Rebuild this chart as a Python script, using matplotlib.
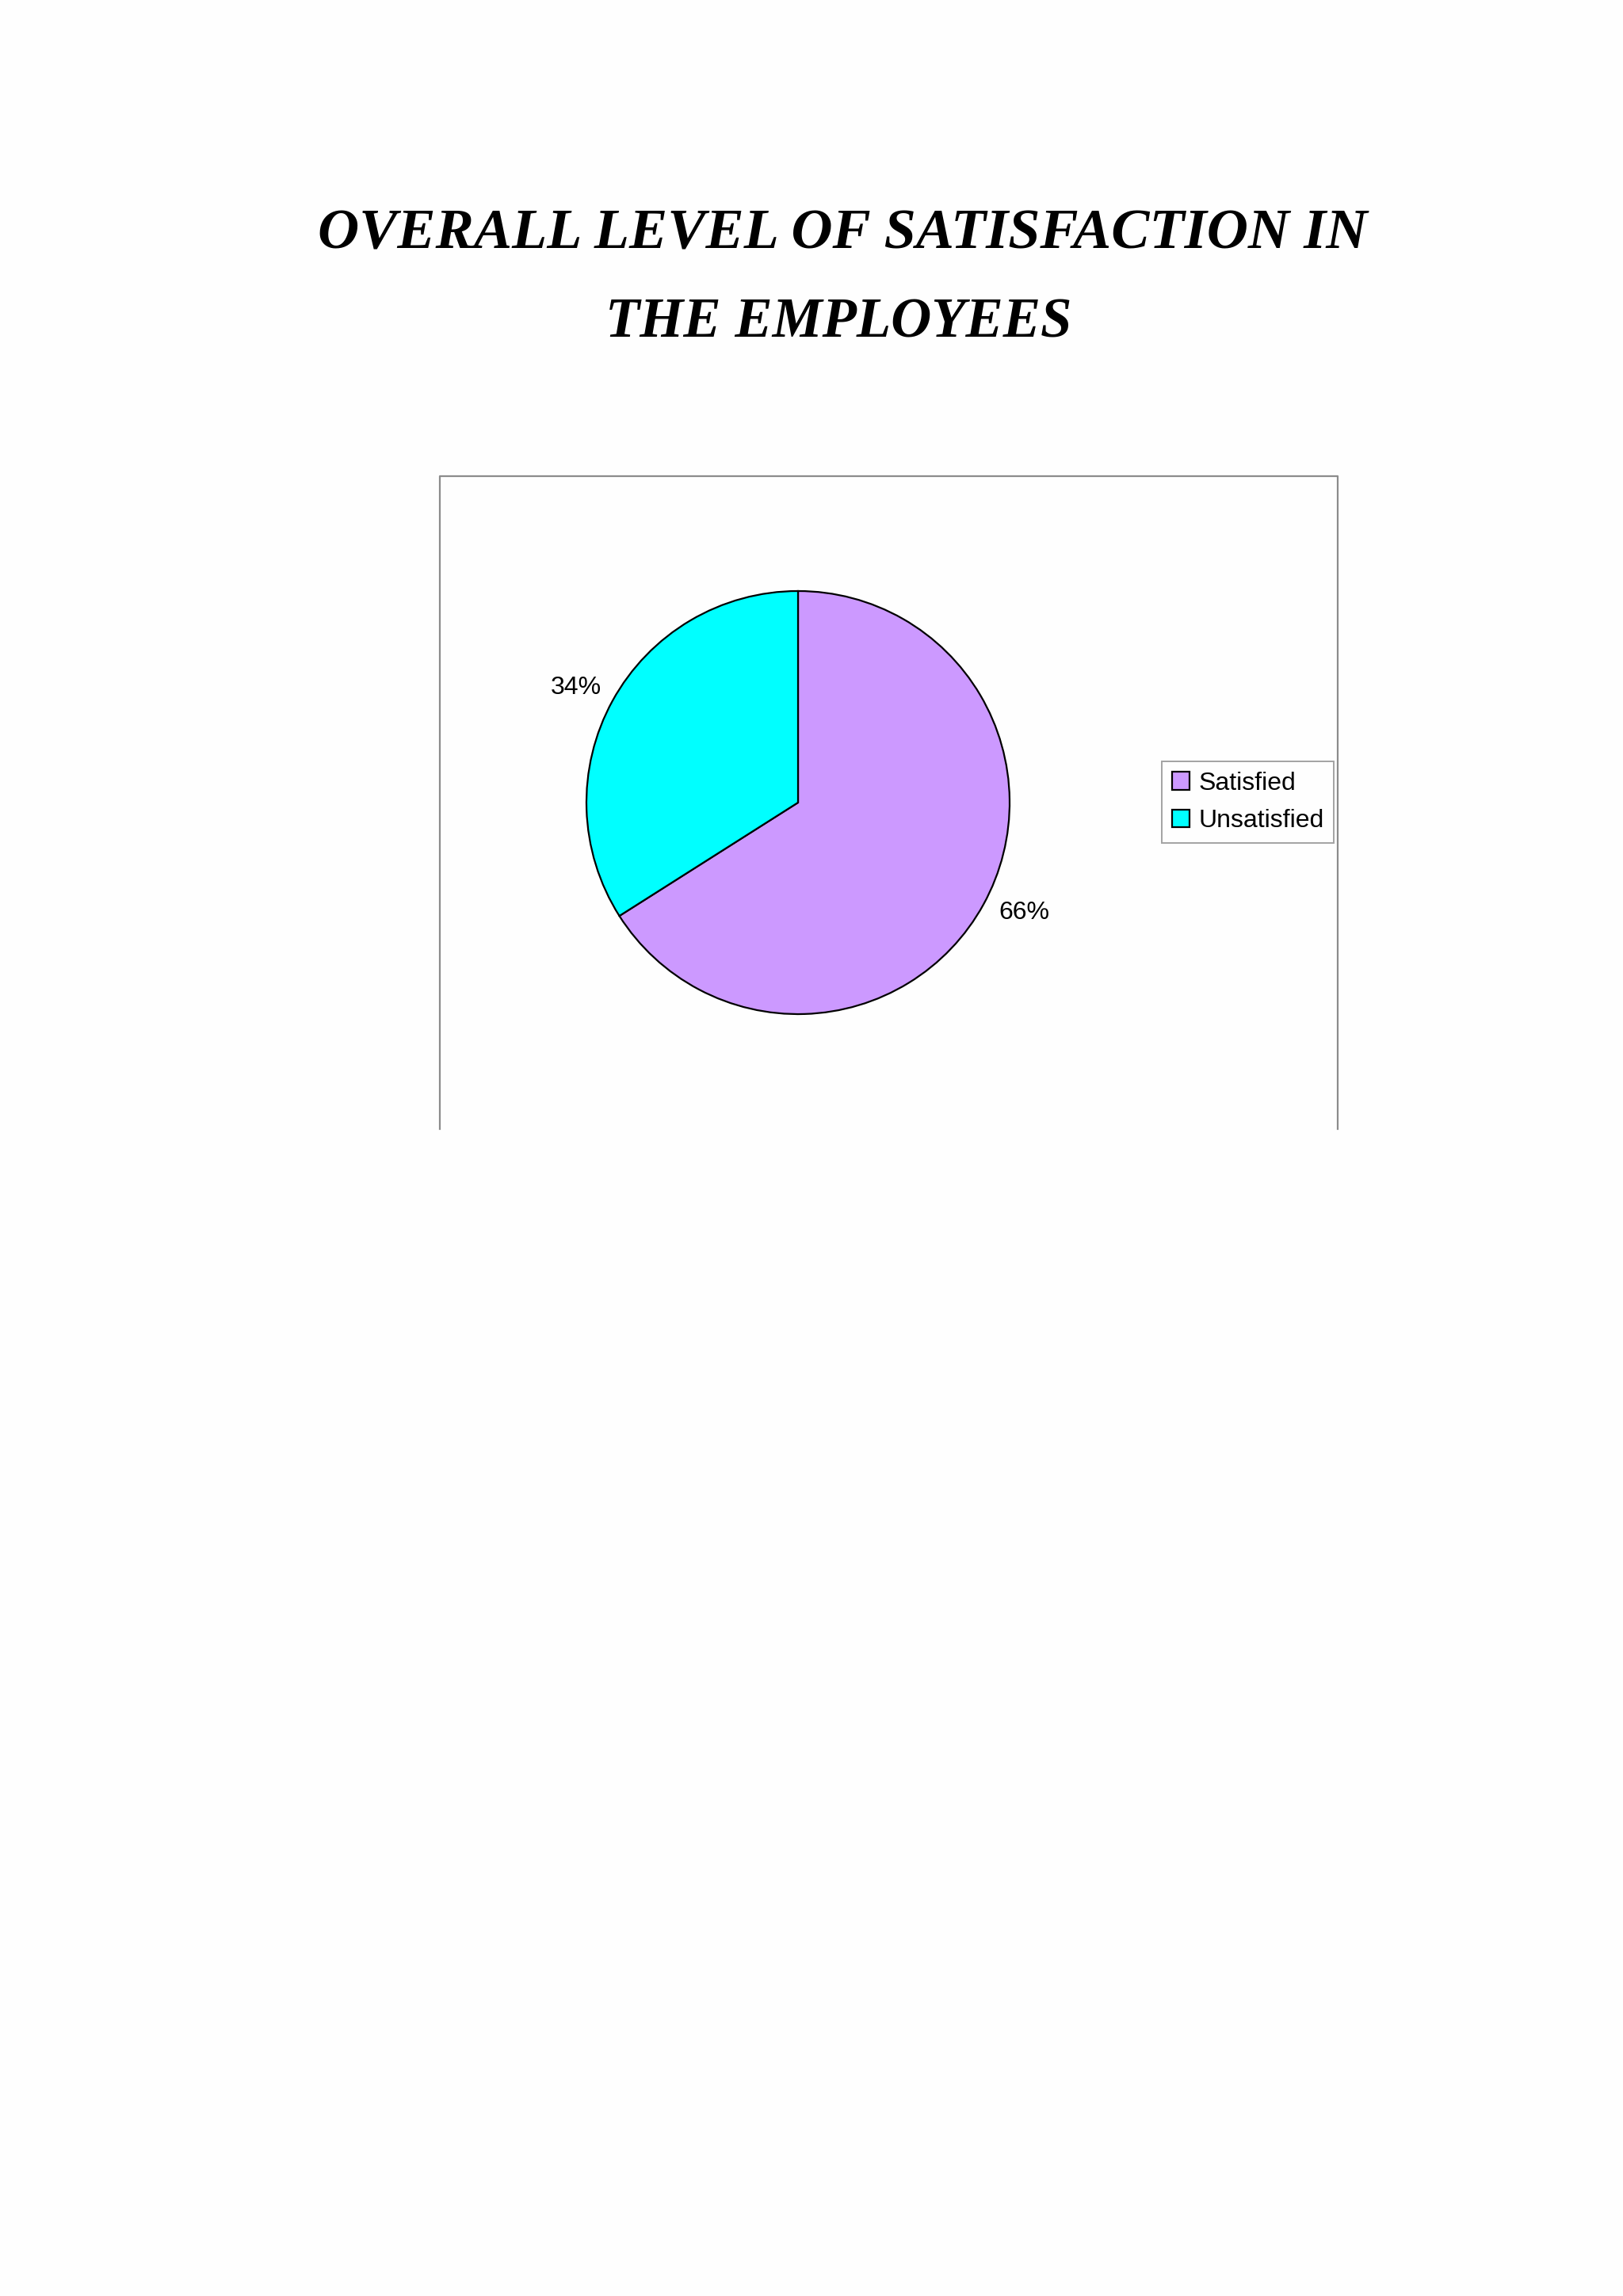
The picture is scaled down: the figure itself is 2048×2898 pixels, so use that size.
import matplotlib
matplotlib.use("Agg")
import matplotlib.pyplot as plt
from matplotlib.lines import Line2D
import numpy as np

labels = ["Satisfied", "Unsatisfied"]
values = [66, 34]
colors = ["#CC99FF", "#00FFFF"]
title_lines = ["OVERALL LEVEL OF SATISFACTION IN", "THE EMPLOYEES"]

W, H = 2048, 2898
fig = plt.figure(figsize=(W / 100, H / 100), dpi=100, facecolor="#FEFEFE")

def fx(px):
    return px / W

def fy(py):
    return 1 - py / H

# Title
fig.text(fx(1063), fy(296), title_lines[0], ha="center", va="center",
         fontsize=52, fontweight="bold", fontstyle="italic",
         family="Liberation Serif")
fig.text(fx(1058), fy(408), title_lines[1], ha="center", va="center",
         fontsize=51, fontweight="bold", fontstyle="italic",
         family="Liberation Serif")

# Chart frame (top, left, right)
gray = "#8c8c8c"
fig.add_artist(Line2D([fx(555), fx(555), fx(1688), fx(1688)],
                      [fy(1425), fy(601), fy(601), fy(1425)],
                      color=gray, lw=1.6, transform=fig.transFigure))

# Pie
cx, cy, r = 1007, 1013, 267
ax = fig.add_axes([fx(cx - r), fy(cy + r), 2 * r / W, 2 * r / H])
wedges, texts, autotexts = ax.pie(
    values, colors=colors, startangle=90, counterclock=False,
    autopct="%d%%", pctdistance=1.18,
    wedgeprops=dict(edgecolor="black", linewidth=1.6),
    textprops=dict(fontsize=23, family="Liberation Sans", color="black"))
# label placement as in the reference
for t, (dist, ang) in zip(autotexts, [(1.19, -26.0), (1.18, 152.7)]):
    a = np.deg2rad(ang)
    t.set_position((dist * np.cos(a), dist * np.sin(a)))
ax.set_xlim(-1, 1)
ax.set_ylim(-1, 1)
ax.set_aspect("equal")
ax.axis("off")

# Legend
leg = fig.legend(wedges, labels, loc="upper left",
                 bbox_to_anchor=(fx(1466), fy(961)),
                 bbox_transform=fig.transFigure,
                 prop=dict(family="Liberation Sans", size=23),
                 frameon=True, fancybox=False, edgecolor=gray,
                 handlelength=0.7, handleheight=0.7, handletextpad=0.35,
                 borderpad=0.4, labelspacing=0.55, borderaxespad=0)
leg.get_frame().set_linewidth(1.4)

fig.savefig("out.png", dpi=100, facecolor=fig.get_facecolor())
